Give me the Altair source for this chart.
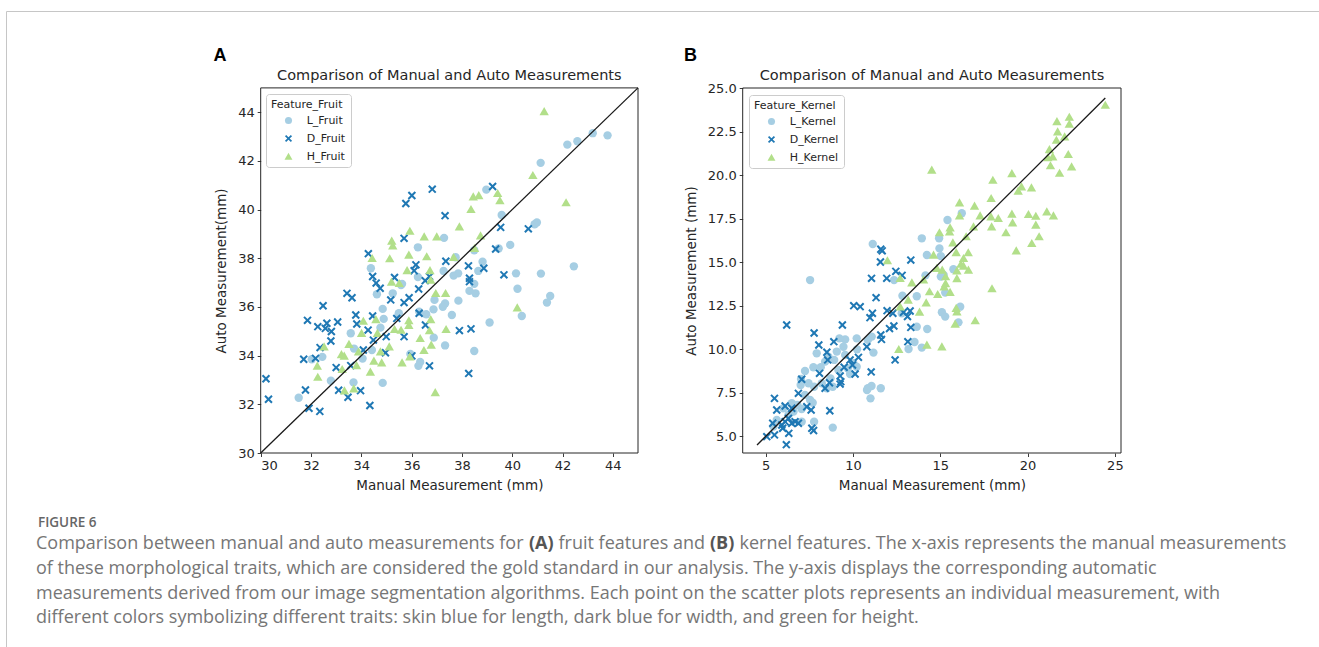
import altair as alt
import pandas as pd

# ---------------- Panel A : fruit ----------------
fruit_L_manual = [43.79, 43.20, 42.59, 42.19, 41.13, 38.97, 39.58, 40.98, 40.89, 39.92, 39.46, 37.29, 36.25, 34.38, 37.75, 37.85, 37.67, 37.27, 38.82, 38.65, 38.49, 40.15, 41.14, 42.45, 36.25, 35.58, 38.49, 38.54, 38.30, 40.21, 41.51, 41.38, 40.38, 39.10, 37.86, 37.60, 37.33, 37.24, 36.91, 36.87, 36.58, 36.30, 36.88, 37.33, 38.49, 35.95, 36.34, 36.27, 34.85, 34.62, 35.25, 35.62, 34.89, 34.76, 33.58, 34.05, 33.71, 33.69, 34.85, 32.79, 32.45, 32.03, 31.51, 35.49, 34.42]
fruit_L_auto = [43.05, 43.14, 42.81, 42.67, 41.92, 40.82, 39.78, 39.47, 39.40, 38.55, 38.40, 38.84, 38.45, 37.59, 38.04, 37.38, 37.29, 37.48, 37.86, 37.48, 38.33, 37.38, 37.37, 37.67, 37.23, 36.90, 36.95, 36.56, 36.66, 36.75, 36.45, 36.18, 35.63, 35.36, 36.26, 35.67, 36.14, 36.01, 36.29, 35.90, 35.70, 35.81, 34.74, 34.42, 34.19, 34.07, 33.74, 33.58, 35.92, 36.52, 36.56, 36.95, 35.51, 35.15, 34.92, 33.88, 34.29, 32.90, 32.88, 32.97, 33.95, 33.85, 32.27, 35.74, 34.23]

fruit_D_manual = [39.22, 39.54, 40.64, 39.34, 39.67, 38.87, 38.26, 38.30, 37.36, 36.82, 36.01, 35.77, 37.33, 35.70, 34.28, 34.45, 34.59, 34.75, 35.32, 36.17, 36.10, 36.54, 36.28, 36.71, 33.43, 35.90, 38.30, 38.36, 37.90, 38.27, 36.71, 36.55, 36.30, 35.70, 35.70, 35.41, 35.17, 34.45, 34.27, 34.48, 34.96, 34.99, 34.08, 33.78, 33.82, 33.63, 32.48, 32.63, 32.57, 32.27, 31.86, 33.06, 32.81, 32.79, 32.36, 32.18, 31.71, 33.00, 33.58, 30.21, 30.31, 31.78, 33.10, 33.47, 33.97, 32.35, 31.92, 34.34, 36.01]
fruit_D_auto = [40.95, 39.27, 39.21, 38.38, 37.32, 37.59, 37.69, 37.18, 37.88, 40.84, 40.58, 40.25, 39.75, 38.82, 38.19, 37.25, 36.98, 36.77, 37.21, 37.73, 37.49, 37.08, 36.74, 37.25, 36.56, 36.38, 37.04, 35.10, 35.03, 33.27, 33.58, 35.26, 35.74, 36.18, 34.78, 35.53, 36.29, 35.63, 35.05, 34.64, 34.12, 34.78, 34.23, 35.67, 35.30, 36.38, 36.05, 35.33, 35.12, 35.19, 35.45, 35.38, 34.99, 34.60, 34.33, 33.89, 33.85, 33.51, 33.59, 33.05, 32.21, 32.59, 32.58, 32.29, 32.56, 31.71, 31.84, 31.95, 33.99]

fruit_H_manual = [41.27, 40.82, 42.14, 39.42, 39.51, 38.67, 38.45, 38.36, 37.90, 38.74, 37.00, 36.50, 35.93, 35.21, 35.25, 35.13, 35.89, 36.60, 35.82, 36.73, 38.50, 37.67, 34.43, 35.20, 35.51, 37.35, 36.96, 36.76, 40.20, 37.37, 36.76, 36.71, 36.78, 35.89, 35.89, 35.58, 35.32, 36.34, 36.49, 35.62, 35.93, 35.11, 34.76, 34.81, 34.50, 34.36, 34.64, 34.58, 34.08, 34.01, 33.51, 33.21, 33.32, 33.24, 33.81, 33.89, 32.52, 32.25, 32.27, 33.33, 33.70, 36.94]
fruit_H_auto = [44.03, 41.41, 40.29, 40.67, 40.37, 40.58, 40.53, 40.01, 39.30, 38.93, 38.89, 38.89, 39.12, 38.71, 38.52, 37.99, 38.14, 38.07, 37.50, 37.50, 38.41, 38.04, 38.00, 37.03, 36.97, 36.56, 36.56, 37.11, 35.97, 35.08, 35.49, 35.03, 34.44, 35.44, 35.25, 35.05, 35.08, 34.71, 34.22, 33.71, 33.96, 34.37, 34.16, 33.71, 33.78, 33.33, 34.92, 35.49, 35.42, 34.92, 34.47, 34.05, 33.99, 33.44, 33.60, 34.16, 34.37, 33.58, 33.12, 32.56, 32.64, 32.49]

# ---------------- Panel B : kernel ----------------
kernel_L_manual = [16.23, 15.41, 11.13, 13.94, 14.93, 14.95, 14.23, 15.03, 15.75, 14.15, 15.03, 15.19, 12.35, 7.54, 12.83, 13.65, 15.28, 16.14, 15.09, 15.28, 16.04, 13.65, 14.25, 12.79, 13.52, 13.18, 13.94, 11.07, 10.85, 11.17, 10.21, 10.23, 9.55, 9.22, 9.45, 9.55, 9.07, 8.92, 8.59, 7.92, 8.40, 8.15, 7.73, 7.25, 10.02, 10.21, 9.83, 9.70, 9.16, 8.71, 8.84, 8.50, 8.21, 7.77, 7.45, 7.02, 7.00, 7.25, 7.54, 7.69, 6.81, 7.06, 6.49, 6.59, 6.01, 6.30, 7.06, 7.77, 8.84, 10.85, 11.06, 11.59, 11.00, 10.80, 5.63, 5.44]
kernel_L_auto = [17.82, 17.43, 16.05, 16.38, 16.38, 15.80, 15.42, 15.36, 14.60, 14.25, 14.18, 14.27, 13.98, 13.98, 13.08, 13.05, 13.26, 12.45, 12.13, 11.88, 11.55, 11.30, 11.17, 12.07, 10.42, 10.02, 10.10, 10.73, 10.54, 9.81, 10.63, 10.00, 10.57, 10.63, 10.15, 9.67, 9.87, 9.39, 9.58, 9.77, 9.29, 8.97, 8.97, 8.75, 9.20, 9.00, 8.58, 8.91, 8.81, 8.33, 7.85, 7.76, 8.05, 7.85, 8.05, 8.30, 7.95, 7.38, 7.09, 6.93, 6.80, 6.57, 6.90, 6.42, 6.61, 6.23, 5.84, 5.84, 5.50, 7.76, 7.89, 7.76, 7.18, 7.66, 5.94, 5.56]

kernel_D_manual = [11.59, 11.67, 11.57, 13.31, 11.06, 11.93, 12.45, 12.81, 11.32, 10.04, 10.41, 11.11, 10.97, 11.95, 12.28, 13.27, 12.89, 13.12, 13.31, 12.34, 12.09, 11.59, 11.63, 10.79, 13.14, 12.41, 11.04, 6.20, 7.77, 9.39, 8.04, 8.90, 8.50, 8.55, 10.31, 9.83, 9.97, 9.49, 10.12, 9.26, 9.30, 9.26, 8.08, 8.65, 8.40, 7.06, 6.87, 8.67, 5.50, 5.63, 6.11, 6.49, 7.35, 7.60, 7.64, 7.74, 5.40, 5.06, 5.50, 5.92, 6.11, 6.18, 6.32, 6.49, 6.68, 5.97, 6.30, 6.87]
kernel_D_auto = [15.75, 15.66, 15.02, 15.13, 14.08, 14.08, 14.48, 14.25, 12.97, 12.51, 12.45, 12.07, 11.82, 12.22, 12.07, 12.20, 12.13, 11.88, 11.26, 11.34, 11.19, 10.82, 10.57, 10.15, 10.44, 9.39, 8.70, 11.40, 10.94, 11.40, 10.25, 10.44, 9.83, 9.39, 9.54, 9.39, 9.10, 8.97, 8.58, 8.47, 8.14, 8.00, 8.62, 8.08, 7.76, 8.28, 7.47, 6.47, 7.18, 6.51, 6.74, 6.61, 6.70, 6.51, 5.46, 5.33, 5.75, 4.98, 5.08, 5.65, 5.84, 4.52, 5.17, 5.75, 5.84, 5.46, 6.03, 5.75]

kernel_H_manual = [24.45, 21.68, 22.39, 21.72, 22.39, 22.12, 21.65, 21.25, 21.44, 21.16, 22.33, 22.52, 21.31, 21.83, 14.51, 19.10, 18.01, 19.65, 20.22, 19.46, 17.91, 16.10, 16.96, 17.28, 17.90, 18.32, 19.10, 19.14, 20.05, 20.47, 21.10, 21.48, 20.47, 20.66, 20.24, 19.35, 18.76, 17.94, 16.90, 16.10, 15.56, 14.95, 15.53, 15.72, 16.48, 15.91, 16.60, 16.33, 16.18, 16.61, 15.95, 16.33, 14.61, 14.80, 15.11, 15.30, 15.30, 15.22, 15.95, 15.56, 14.85, 17.96, 14.38, 14.04, 13.37, 12.70, 11.97, 14.19, 15.91, 15.95, 15.85, 17.00, 13.81, 13.16, 12.70, 12.62, 14.23, 15.09]
kernel_H_auto = [24.04, 23.10, 23.35, 22.51, 22.95, 22.22, 22.03, 21.49, 21.07, 21.03, 21.21, 20.50, 20.56, 20.13, 20.31, 20.11, 19.73, 19.35, 19.29, 19.10, 18.68, 18.43, 18.24, 17.68, 17.62, 17.53, 17.78, 17.28, 17.76, 17.66, 17.91, 17.68, 17.15, 16.48, 16.09, 15.67, 16.71, 17.05, 17.05, 17.68, 16.99, 16.71, 16.76, 16.13, 16.48, 15.57, 15.56, 15.23, 14.90, 14.56, 14.52, 14.79, 15.42, 14.66, 14.56, 14.18, 13.79, 13.60, 14.07, 13.28, 13.16, 13.49, 13.32, 14.00, 13.83, 14.08, 15.10, 12.68, 12.36, 12.16, 11.46, 11.65, 12.15, 12.84, 12.45, 10.00, 10.25, 10.15]

fruit_features = ["L_Fruit", "D_Fruit", "H_Fruit"]
kernel_features = ["L_Kernel", "D_Kernel", "H_Kernel"]

# axis limits and tick labels
fruit_limits = [30, 45]
kernel_x_limits = [3.68, 25.35]
kernel_y_limits = [4.04, 25.02]
fruit_ticks = [30, 32, 34, 36, 38, 40, 42, 44]
kernel_x_ticks = [5, 10, 15, 20, 25]
kernel_y_ticks = [5.0, 7.5, 10.0, 12.5, 15.0, 17.5, 20.0, 22.5, 25.0]
fruit_identity = [30, 45]
kernel_identity = [4.5, 24.45]

caption_head = "FIGURE 6"
caption_first = [
    ("Comparison between manual and auto measurements for", False),
    ("(A)", True),
    ("fruit features and", False),
    ("(B)", True),
    ("kernel features. The x-axis represents the manual measurements", False),
]
caption_lines = [
    "of these morphological traits, which are considered the gold standard in our analysis. The y-axis displays the corresponding automatic",
    "measurements derived from our image segmentation algorithms. Each point on the scatter plots represents an individual measurement, with",
    "different colors symbolizing different traits: skin blue for length, dark blue for width, and green for height.",
]

# ---------------- styling ----------------
W, H = 1319, 647
TXT = "#262626"
COLORS = ["#a6cee3", "#1f78b4", "#b2df8a"]
XPATH = "M-1,-0.66L-0.66,-1L0,-0.34L0.66,-1L1,-0.66L0.34,0L1,0.66L0.66,1L0,0.34L-0.66,1L-1,0.66L-0.34,0Z"
TRI = "M0,-1.05L1.12,0.9L-1.12,0.9Z"
SHAPES = ["circle", XPATH, TRI]
FONT = "DejaVu Sans"


def series(xs, ys, name):
    return pd.DataFrame({"manual": xs, "auto": ys, "feature": name})


def panel(df, cats, legend_title, xdom, ydom, xr, yr, xvals, yvals, yfmt, ytitle, ident, legxy):
    xs = alt.Scale(domain=xdom, range=xr, nice=False, zero=False)
    ys = alt.Scale(domain=ydom, range=yr, nice=False, zero=False)
    common = dict(grid=False, domain=False, tickSize=3.5, tickColor=TXT, tickWidth=0.9,
                  labelFont=FONT, labelFontSize=13, labelColor=TXT,
                  titleFont=FONT, titleFontSize=13.5, titleFontWeight="normal", titleColor=TXT)
    xax = alt.Axis(orient="bottom", offset=-(H - yr[0]), values=xvals, title="Manual Measurement (mm)",
                   labelPadding=3, titlePadding=6, **common)
    yax = alt.Axis(orient="left", offset=-xr[0], values=yvals, format=yfmt, title=ytitle,
                   labelPadding=3, titlePadding=9, **common)
    leg = alt.Legend(title=legend_title, orient="none", legendX=legxy[0], legendY=legxy[1],
                     fillColor="white", strokeColor="#cccccc", cornerRadius=3, padding=5,
                     titleFont=FONT, titleFontSize=11, titleFontWeight="normal", titleColor=TXT,
                     titlePadding=5, labelFont=FONT, labelFontSize=11, labelColor=TXT,
                     symbolSize=50, symbolOffset=12, labelOffset=12.7, rowPadding=6)
    X = alt.X("manual:Q", scale=xs, axis=xax)
    Y = alt.Y("auto:Q", scale=ys, axis=yax)
    pts = alt.Chart(df).mark_point(filled=True, size=70, opacity=1).encode(
        x=X, y=Y,
        color=alt.Color("feature:N", scale=alt.Scale(domain=cats, range=COLORS), legend=leg),
        shape=alt.Shape("feature:N", scale=alt.Scale(domain=cats, range=SHAPES), legend=leg),
    )
    line = alt.Chart(pd.DataFrame({"manual": ident, "auto": ident})).mark_line(
        color="#1a1a1a", strokeWidth=1.3).encode(x=X, y=Y)
    box = alt.Chart(pd.DataFrame({"manual": [xdom[0]], "m2": [xdom[1]], "auto": [ydom[0]], "a2": [ydom[1]]})).mark_rect(
        fillOpacity=0, stroke=TXT, strokeWidth=1).encode(x=X, x2="m2:Q", y=Y, y2="a2:Q")
    return alt.layer(pts, line, box)


def label(text, x, y, size, font=FONT, weight="normal", color=TXT, align="center", baseline="middle", angle=0):
    return alt.Chart(pd.DataFrame({"t": [text]})).mark_text(
        align=align, baseline=baseline, font=font, fontSize=size, fontWeight=weight, color=color, angle=angle
    ).encode(x=alt.value(x), y=alt.value(y), text="t:N")


dfA = pd.concat([series(fruit_L_manual, fruit_L_auto, "L_Fruit"),
                 series(fruit_D_manual, fruit_D_auto, "D_Fruit"),
                 series(fruit_H_manual, fruit_H_auto, "H_Fruit")], ignore_index=True)
dfB = pd.concat([series(kernel_L_manual, kernel_L_auto, "L_Kernel"),
                 series(kernel_D_manual, kernel_D_auto, "D_Kernel"),
                 series(kernel_H_manual, kernel_H_auto, "H_Kernel")], ignore_index=True)

pA = panel(dfA, fruit_features, "Feature_Fruit", fruit_limits, fruit_limits, [260.7, 638], [453, 87.9],
           fruit_ticks, fruit_ticks, "d", "Auto Measurement(mm)", fruit_identity, (266, 94))
pB = panel(dfB, kernel_features, "Feature_Kernel", kernel_x_limits, kernel_y_limits, [742.7, 1121], [453, 88],
           kernel_x_ticks, kernel_y_ticks, ".1f", "Auto Measurement (mm)", kernel_identity, (749, 95))

one = pd.DataFrame({"a": [0]})
frame_top = alt.Chart(one).mark_rule(color="#c6c6c6", strokeWidth=1).encode(
    x=alt.value(6.5), x2=alt.value(W), y=alt.value(11.5))
frame_left = alt.Chart(one).mark_rule(color="#c6c6c6", strokeWidth=1).encode(
    x=alt.value(6.5), y=alt.value(11.5), y2=alt.value(H))

TITLE = "Comparison of Manual and Auto Measurements"
CAP = "Open Sans"
CAPC = "#767676"
CAPB = "#555555"
CAPSIZE = 18
texts = [
    label("A", 220, 55.5, 18, font="Liberation Sans", weight="bold", color="#000000"),
    label("B", 690.5, 55.5, 18, font="Liberation Sans", weight="bold", color="#000000"),
    label(TITLE, 449.3, 75.7, 14.5),
    label(TITLE, 932, 75.7, 14.5),
    label(caption_head, 38, 526.7, 13.5, font=CAP, weight=600, color="#666666", align="left", baseline="alphabetic"),
]
# positions of the first caption line's runs (regular / bold alternate)
first_x = [36, 529, 558.5, 710, 739.5]
for (txt, bold), x0 in zip(caption_first, first_x):
    texts.append(label(txt, x0, 549.3, CAPSIZE, font=CAP, weight="bold" if bold else "normal",
                       color=CAPB if bold else CAPC, align="left", baseline="alphabetic"))
for i, ln in enumerate(caption_lines):
    texts.append(label(ln, 36, 574 + 24.5 * i, CAPSIZE, font=CAP, color=CAPC, align="left", baseline="alphabetic"))

chart = alt.layer(frame_top, frame_left, pA, pB, *texts).resolve_scale(
    x="independent", y="independent", color="independent", shape="independent"
).properties(width=W, height=H, padding=0, autosize="none", background="white").configure_view(stroke=None)

chart.save("out.html", embed_options={"renderer": "svg", "actions": False})
